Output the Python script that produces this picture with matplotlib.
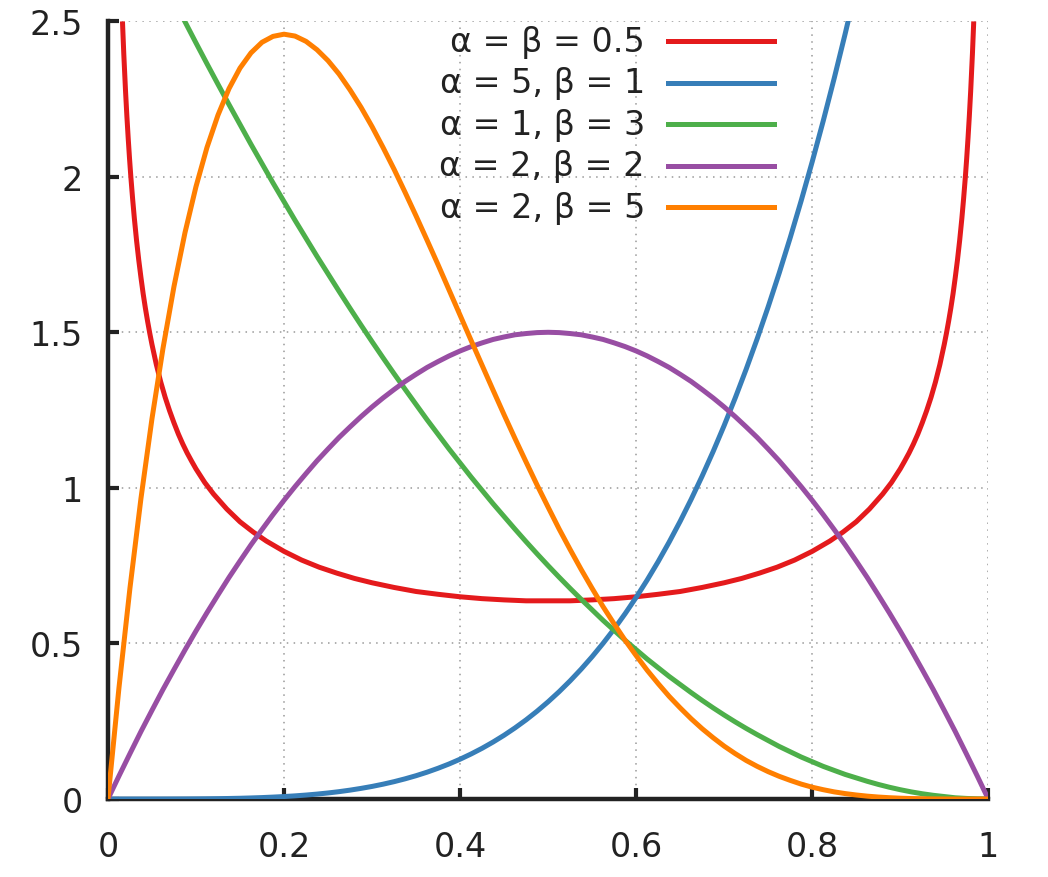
import matplotlib
matplotlib.use("Agg")
import matplotlib.pyplot as plt
from matplotlib.lines import Line2D

# -----------------------------
# Dados
# -----------------------------
x_grid = [0, 0.0125, 0.025, 0.0375, 0.05, 0.0625, 0.075, 0.0875, 0.1, 0.1125,
          0.125, 0.1375, 0.15, 0.1625, 0.175, 0.1875, 0.2, 0.2125, 0.225, 0.2375,
          0.25, 0.2625, 0.275, 0.2875, 0.3, 0.3125, 0.325, 0.3375, 0.35, 0.3625,
          0.375, 0.3875, 0.4, 0.4125, 0.425, 0.4375, 0.45, 0.4625, 0.475, 0.4875,
          0.5, 0.5125, 0.525, 0.5375, 0.55, 0.5625, 0.575, 0.5875, 0.6, 0.6125,
          0.625, 0.6375, 0.65, 0.6625, 0.675, 0.6875, 0.7, 0.7125, 0.725, 0.7375,
          0.75, 0.7625, 0.775, 0.7875, 0.8, 0.8125, 0.825, 0.8375, 0.85, 0.8625,
          0.875, 0.8875, 0.9, 0.9125, 0.925, 0.9375, 0.95, 0.9625, 0.975, 0.9875, 1]

x_red = [0.0165, 0.018, 0.02, 0.0215, 0.023, 0.0245, 0.026, 0.028, 0.03, 0.0325,
         0.035, 0.0375, 0.04, 0.0425, 0.045, 0.0475, 0.05, 0.055, 0.06, 0.065,
         0.07, 0.075, 0.08, 0.085, 0.09, 0.095, 0.10, 0.11, 0.12, 0.135,
         0.15, 0.165, 0.18, 0.20, 0.22, 0.24, 0.26, 0.28, 0.30, 0.325,
         0.35, 0.375, 0.40, 0.425, 0.45, 0.475, 0.50,
         0.525, 0.55, 0.575, 0.60, 0.625, 0.65, 0.675, 0.70, 0.72, 0.74,
         0.76, 0.78, 0.80, 0.82, 0.835, 0.85, 0.865, 0.88, 0.89, 0.90,
         0.905, 0.91, 0.915, 0.92, 0.925, 0.93, 0.935, 0.94, 0.945, 0.95,
         0.9525, 0.955, 0.9575, 0.96, 0.9625, 0.965, 0.9675, 0.97, 0.972, 0.974,
         0.9755, 0.977, 0.9785, 0.98, 0.982, 0.9835]
y_red = [2.499, 2.394, 2.274, 2.195, 2.124, 2.059, 2.000, 1.930, 1.866, 1.795,
         1.732, 1.676, 1.624, 1.578, 1.536, 1.497, 1.461, 1.396, 1.340, 1.291,
         1.248, 1.209, 1.173, 1.141, 1.112, 1.086, 1.061, 1.017, 0.980, 0.932,
         0.891, 0.858, 0.829, 0.796, 0.768, 0.745, 0.726, 0.709, 0.695, 0.680,
         0.667, 0.658, 0.650, 0.644, 0.640, 0.637, 0.637,
         0.637, 0.640, 0.644, 0.650, 0.658, 0.667, 0.680, 0.695, 0.709, 0.726,
         0.745, 0.768, 0.796, 0.829, 0.858, 0.891, 0.932, 0.980, 1.017, 1.061,
         1.086, 1.112, 1.141, 1.173, 1.209, 1.248, 1.291, 1.340, 1.396, 1.461,
         1.497, 1.536, 1.578, 1.624, 1.676, 1.732, 1.795, 1.866, 1.930, 2.000,
         2.059, 2.124, 2.195, 2.274, 2.394, 2.499]

y_blue = [0, 0, 0.000002, 0.00001, 0.00003, 0.00008, 0.00016, 0.00029, 0.0005, 0.0008,
          0.0012, 0.0018, 0.0025, 0.0035, 0.0047, 0.0062, 0.008, 0.0102, 0.0128, 0.0159,
          0.0195, 0.0237, 0.0286, 0.0342, 0.0405, 0.0477, 0.0558, 0.0649, 0.0750, 0.0863,
          0.0989, 0.1127, 0.128, 0.1448, 0.1631, 0.1832, 0.2050, 0.2288, 0.2545, 0.2824,
          0.3125, 0.3449, 0.3798, 0.4173, 0.4575, 0.5006, 0.5465, 0.5957, 0.648, 0.7037,
          0.7629, 0.8258, 0.8925, 0.9632, 1.0380, 1.1170, 1.2005, 1.2886, 1.3814, 1.4792,
          1.5820, 1.6902, 1.8038, 1.9230, 2.048, 2.1790, 2.3163, 2.4599, 2.6100, 2.7670,
          2.9309, 3.102, 3.2805, 3.467, 3.6605, 3.862, 4.0725, 4.291, 4.5184, 4.755, 5.0]

y_green = [3.0, 2.925, 2.852, 2.779, 2.708, 2.637, 2.567, 2.498, 2.43, 2.363,
           2.297, 2.232, 2.168, 2.104, 2.042, 1.980, 1.92, 1.860, 1.802, 1.744,
           1.688, 1.632, 1.577, 1.523, 1.47, 1.418, 1.367, 1.317, 1.268, 1.219,
           1.172, 1.125, 1.08, 1.035, 0.992, 0.949, 0.908, 0.867, 0.827, 0.788,
           0.75, 0.713, 0.677, 0.642, 0.608, 0.574, 0.542, 0.510, 0.48, 0.450,
           0.422, 0.394, 0.368, 0.342, 0.317, 0.293, 0.27, 0.248, 0.227, 0.207,
           0.188, 0.169, 0.152, 0.135, 0.12, 0.105, 0.092, 0.079, 0.068, 0.057,
           0.047, 0.038, 0.03, 0.023, 0.017, 0.012, 0.008, 0.004, 0.002, 0.0005, 0]

y_purple = [0, 0.074, 0.146, 0.217, 0.285, 0.352, 0.416, 0.479, 0.54, 0.599,
            0.656, 0.712, 0.765, 0.817, 0.866, 0.914, 0.96, 1.004, 1.046, 1.087,
            1.125, 1.162, 1.196, 1.229, 1.26, 1.289, 1.316, 1.342, 1.365, 1.387,
            1.406, 1.424, 1.44, 1.454, 1.466, 1.477, 1.485, 1.492, 1.496, 1.499,
            1.5, 1.499, 1.496, 1.492, 1.485, 1.477, 1.466, 1.454, 1.44, 1.424,
            1.406, 1.387, 1.365, 1.342, 1.316, 1.289, 1.26, 1.229, 1.196, 1.162,
            1.125, 1.087, 1.046, 1.004, 0.96, 0.914, 0.866, 0.817, 0.765, 0.712,
            0.656, 0.599, 0.54, 0.479, 0.416, 0.352, 0.285, 0.217, 0.146, 0.074, 0]

y_orange = [0, 0.357, 0.678, 0.966, 1.222, 1.448, 1.647, 1.820, 1.968, 2.094,
            2.198, 2.283, 2.349, 2.398, 2.432, 2.451, 2.458, 2.452, 2.435, 2.408,
            2.373, 2.330, 2.279, 2.223, 2.161, 2.094, 2.024, 1.950, 1.874, 1.796,
            1.717, 1.636, 1.555, 1.474, 1.394, 1.314, 1.235, 1.158, 1.083, 1.009,
            0.938, 0.868, 0.802, 0.738, 0.677, 0.618, 0.563, 0.510, 0.461, 0.414,
            0.371, 0.330, 0.293, 0.258, 0.226, 0.197, 0.170, 0.146, 0.124, 0.105,
            0.088, 0.073, 0.060, 0.048, 0.038, 0.030, 0.023, 0.0175, 0.013, 0.0093,
            0.0064, 0.0043, 0.0027, 0.0016, 0.0009, 0.0004, 0.0002, 0.00006, 0.00001, 0, 0]

labels = ["α = β = 0.5", "α = 5, β = 1", "α = 1, β = 3",
          "α = 2, β = 2", "α = 2, β = 5"]
cores = ["#e41a1c", "#377eb8", "#4daf4a", "#984ea3", "#ff7f00"]

x_ticks = [0, 0.2, 0.4, 0.6, 0.8, 1]
x_ticklabels = ["0", "0.2", "0.4", "0.6", "0.8", "1"]
y_ticks = [0, 0.5, 1, 1.5, 2, 2.5]
y_ticklabels = ["0", "0.5", "1", "1.5", "2", "2.5"]

# -----------------------------
# Figura
# -----------------------------
plt.rcParams["font.family"] = ["DejaVu Sans"]
texto = "#222222"

fig = plt.figure(figsize=(10.48, 8.78), dpi=100)
ax = fig.add_axes([0.103, 0.0888, 0.840, 0.886])

series = [(x_red, y_red), (x_grid, y_blue), (x_grid, y_green),
          (x_grid, y_purple), (x_grid, y_orange)]
for (xs, ys), cor in zip(series, cores):
    ax.plot(xs, ys, color=cor, lw=3.6, solid_capstyle="butt",
            solid_joinstyle="round", zorder=3)

ax.set_xlim(0, 1)
ax.set_ylim(0, 2.5)
ax.set_xticks(x_ticks)
ax.set_xticklabels(x_ticklabels)
ax.set_yticks(y_ticks)
ax.set_yticklabels(y_ticklabels)

ax.grid(True, color="#999999", linestyle=(0, (1, 3.5)), lw=1.1, zorder=1)
for lado in ["top", "right"]:
    ax.spines[lado].set_visible(False)
for lado in ["left", "bottom"]:
    ax.spines[lado].set_linewidth(3.2)
    ax.spines[lado].set_color(texto)
    ax.spines[lado].set_zorder(2)

ax.tick_params(direction="in", length=8, width=3, color=texto,
               labelsize=24, labelcolor=texto)
ax.tick_params(axis="x", pad=22)
ax.tick_params(axis="y", pad=18)

# Legenda no estilo gnuplot: texto alinhado à direita, amostra depois
y0, passo = 0.974, 0.0533
for i, (lab, cor) in enumerate(zip(labels, cores)):
    yy = y0 - i * passo
    ax.text(0.610, yy, lab, transform=ax.transAxes, ha="right", va="center",
            fontsize=24, color=texto, zorder=5)
    ax.add_line(Line2D([0.636, 0.757], [yy, yy], transform=ax.transAxes,
                       color=cor, lw=3.6, zorder=5))

fig.savefig("out.png", dpi=100)
